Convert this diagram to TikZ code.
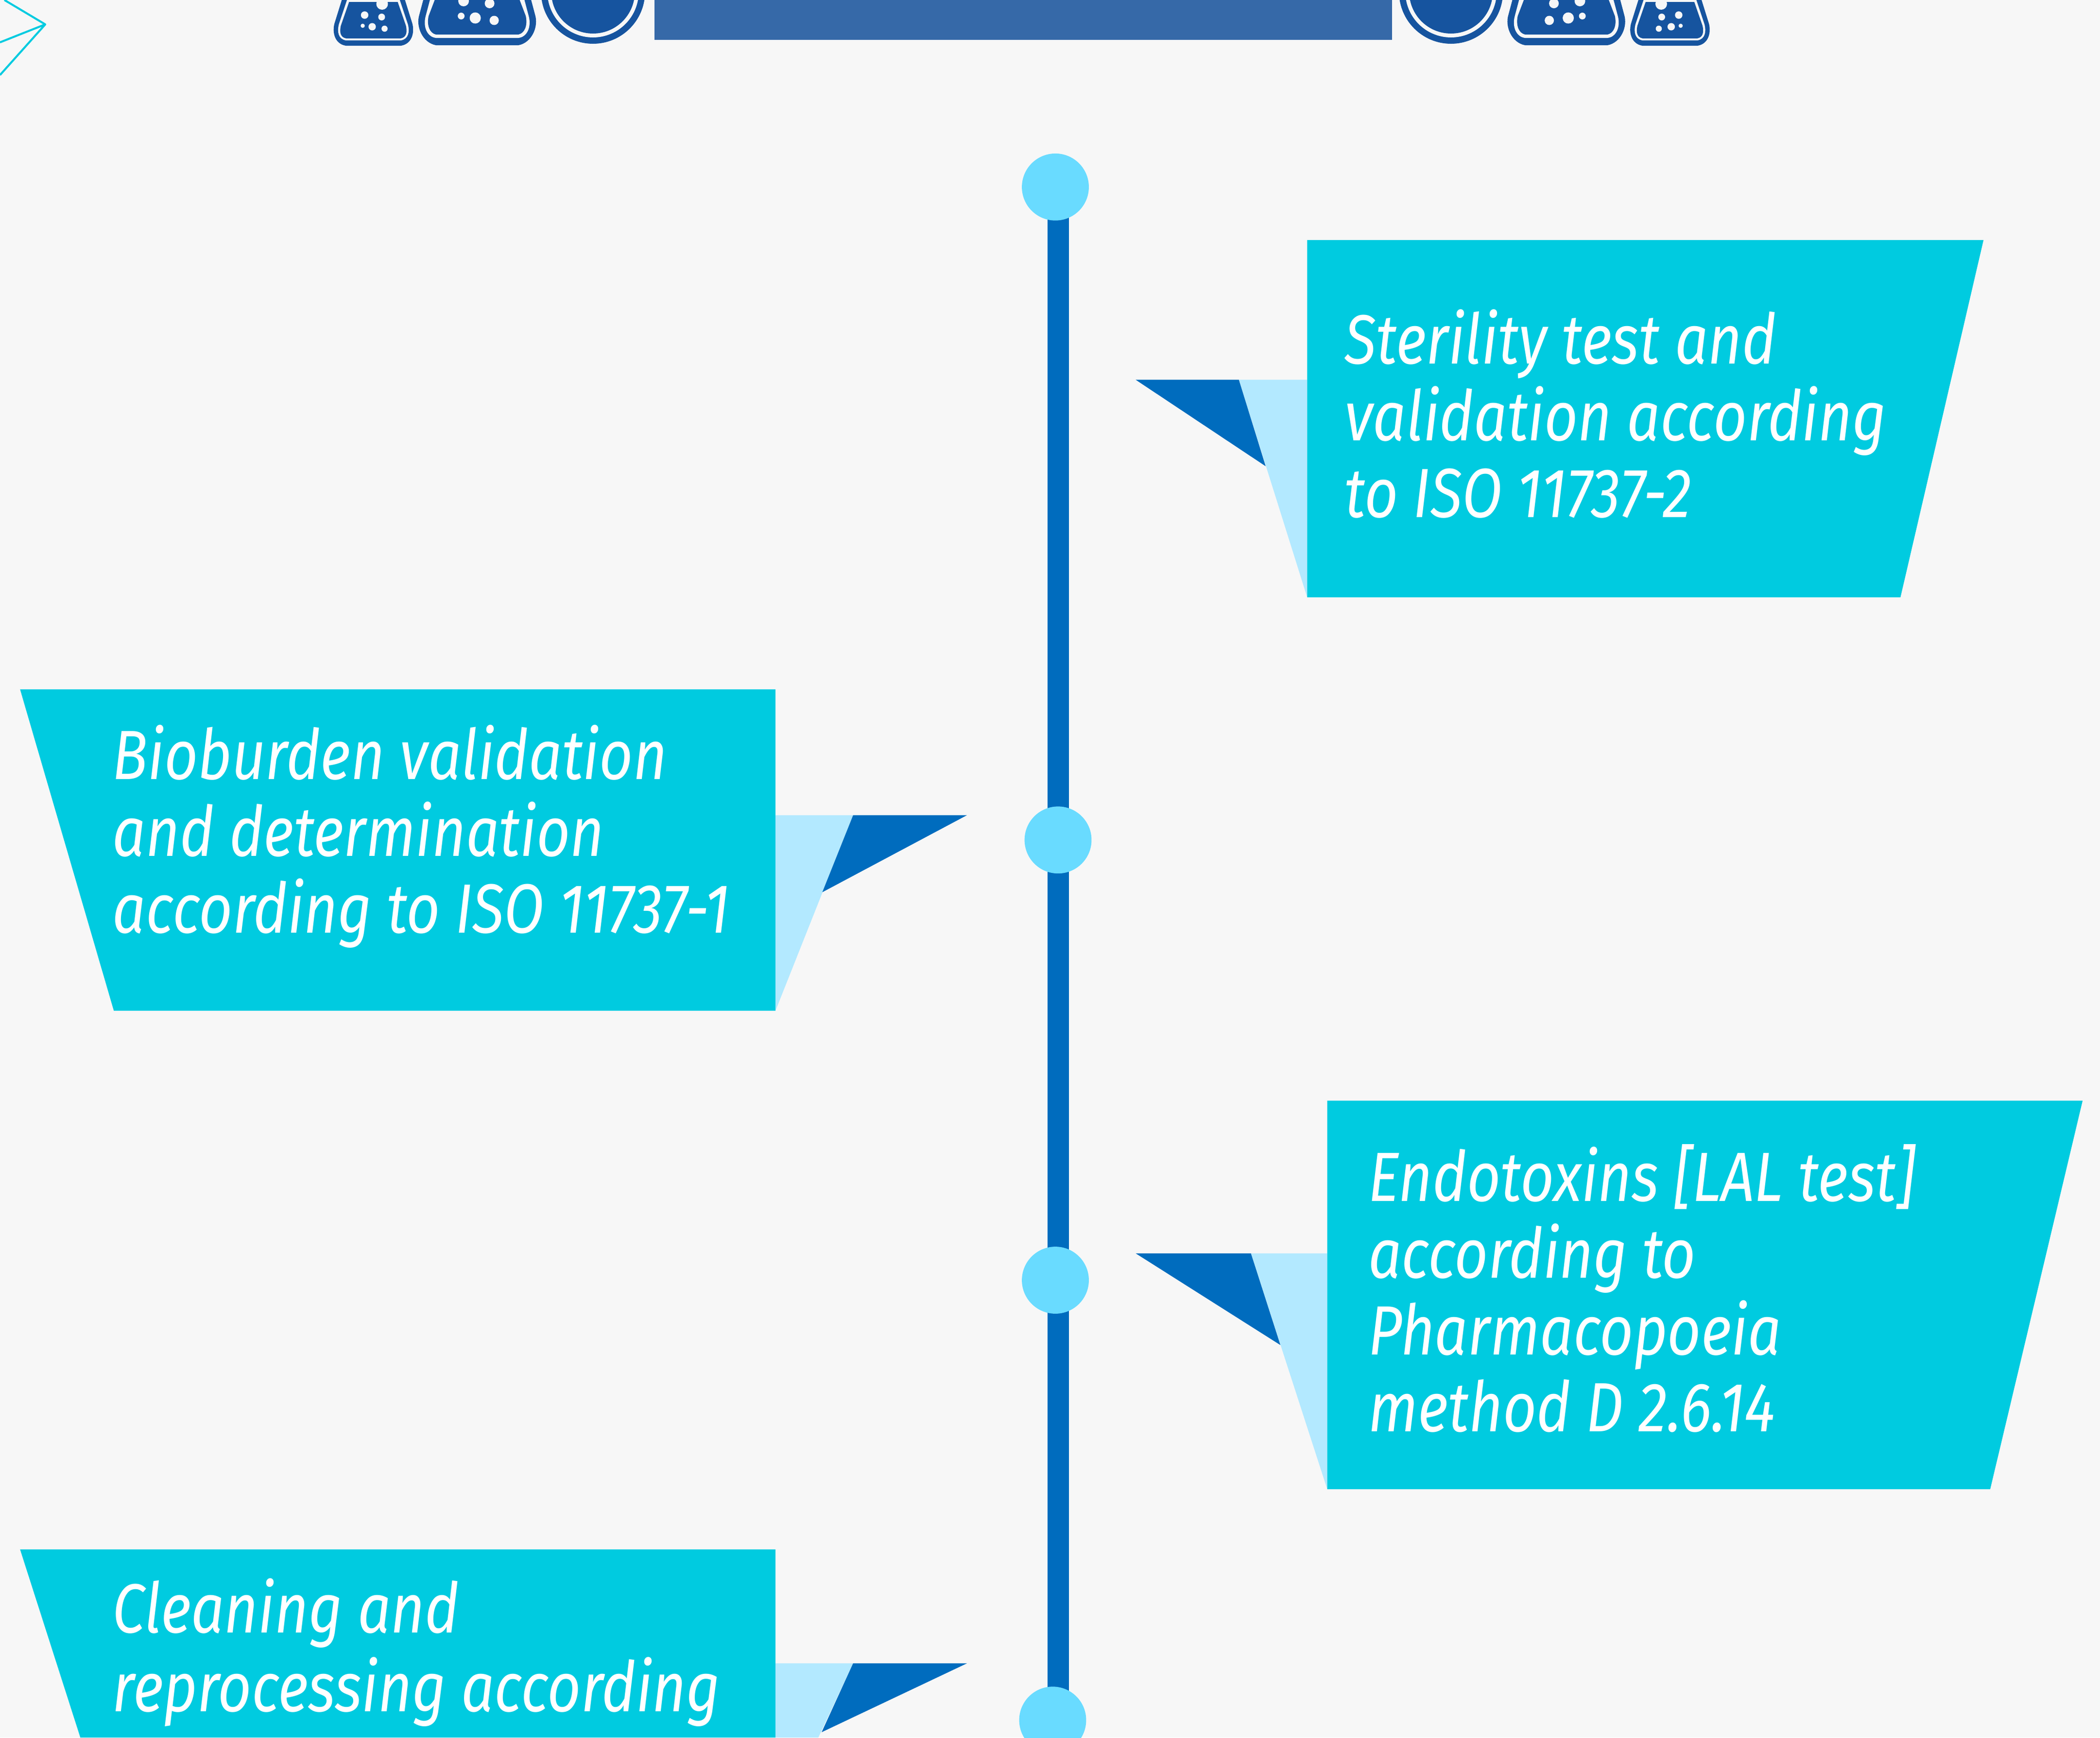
\documentclass[tikz,border=0pt]{standalone}
\usepackage{fontspec}
\setmainfont{Fira Sans}[FakeStretch=0.84]
\definecolor{bgc}{HTML}{F7F7F7}
\definecolor{boxc}{HTML}{00CBE0}
\definecolor{darkc}{HTML}{006CBE}
\definecolor{lightc}{HTML}{B3E9FF}
\definecolor{dotc}{HTML}{69DBFF}
\definecolor{headc}{HTML}{3669A8}
\definecolor{iconc}{HTML}{16549F}
\tikzset{
  boxshape/.style={fill=boxc},
  tailshape/.style={fill=lightc},
  tipshape/.style={fill=darkc},
  dotnode/.style={circle,fill=dotc,minimum size=2.5cm,inner sep=0pt},
  labelnode/.style={anchor=north west,inner sep=0pt,align=left,text=white,
    font=\fontsize{74}{81.5}\selectfont\itshape},
  iconlocal/.style={x=0.01814cm,y=-0.01814cm},
}
\newcommand{\flaskS}{%
  \fill[iconc] (-65,0) -- (-80,48) .. controls (-85,66) and (-80,90) .. (-57,94) -- (57,94) .. controls (80,90) and (85,66) .. (80,48) -- (65,0) -- cycle;
  \fill[bgc] (-54,-1) -- (-71,50) .. controls (-75,66) and (-72,80) .. (-57,83) -- (57,83) .. controls (72,80) and (75,66) .. (71,50) -- (54,-1) -- cycle;
  \fill[iconc] (-50,4) -- (-67,53) .. controls (-70,66) and (-68,77) .. (-56,79) -- (56,79) .. controls (68,77) and (70,66) .. (67,53) -- (50,4) -- cycle;
  \fill[bgc] (-18,8) circle[radius=12] (-17,35) circle[radius=7] (18,31) circle[radius=7.7]
    (22,53) circle[radius=4.3] (2.5,55) circle[radius=7.6] (-23,59) circle[radius=6.3];
}
\newcommand{\flaskB}{%
  \fill[iconc] (-111,0) -- (-119,30) .. controls (-127,55) and (-112,88) .. (-85,93) -- (85,93) .. controls (112,88) and (127,55) .. (119,30) -- (111,0) -- cycle;
  \fill[bgc] (-97,-1) -- (-106,33) .. controls (-112,55) and (-103,76) .. (-85,78) -- (85,78) .. controls (103,76) and (112,55) .. (106,33) -- (97,-1) -- cycle;
  \fill[iconc] (-87,-1) -- (-100,33) .. controls (-104,52) and (-98,68) .. (-85,71) -- (85,71) .. controls (98,68) and (104,52) .. (100,33) -- (87,-1) -- cycle;
  \fill[bgc] (-25.5,7) circle[radius=10] (28,2) circle[radius=11] (33,33) circle[radius=7]
    (4,37) circle[radius=11.5] (-35,42) circle[radius=9.5];
}
\newcommand{\disc}{%
  \fill[iconc] (0,-17) circle[radius=107];
  \fill[bgc] (0,-17) circle[radius=94];
  \fill[iconc] (0,-17) circle[radius=86];
}
\begin{document}
\begin{tikzpicture}[x=0.05cm,y=-0.05cm]
\useasboundingbox (0,0) rectangle (1568,1297);
\fill[bgc] (0,0) rectangle (1568,1297);
\clip (0,0) rectangle (1568,1297);
% paper plane fragment
\draw[boxc,line width=2.1pt,line join=round] (3.3,0) -- (33.8,18.2) -- (0,31.6) (33.8,18.2) -- (0,56);
% header
\fill[headc] (488.7,0) rectangle (1039.5,29.75);
% icons (mirrored pairs)
\begin{scope}[shift={(278.8,0)},iconlocal,xscale=-1]\flaskS\end{scope}
\begin{scope}[shift={(1246.9,0)},iconlocal]\flaskS\end{scope}
\begin{scope}[shift={(356.3,0)},iconlocal,xscale=-1]\flaskB\end{scope}
\begin{scope}[shift={(1169.5,0)},iconlocal]\flaskB\end{scope}
\begin{scope}[shift={(442.8,0)},iconlocal]\disc\end{scope}
\begin{scope}[shift={(1083.4,0)},iconlocal]\disc\end{scope}
% axis
\coordinate (axt) at (790,140);
\coordinate (axb) at (790,1297);
\draw[darkc,line width=16*1.4226pt] (axt) -- (axb);
\node[dotnode] (d1) at (788,139.6) {};
\node[dotnode] (d2) at (790,627) {};
\node[dotnode] (d3) at (788,955.6) {};
\node[dotnode] (d4) at (786,1284) {};
% box 1
\fill[tailshape] (925,283.5) -- (976,283.5) -- (976,445.8) -- cycle;
\fill[tipshape] (848,283.5) -- (925,283.5) -- (945,348) -- cycle;
\fill[boxshape] (976,179.2) -- (1481,179.2) -- (1419,445.8) -- (976,445.8) -- cycle;
\node[labelnode] (t1) at (1004,231) {Sterility test and\\validation according\\to ISO 11737-2};
% box 2
\fill[tailshape] (579,608.5) -- (637,608.5) -- (579,754.5) -- cycle;
\fill[tipshape] (722,608.5) -- (637,608.5) -- (614,666) -- cycle;
\fill[boxshape] (15,514.6) -- (579,514.6) -- (579,754.5) -- (85,754.5) -- cycle;
\node[labelnode] (t2) at (84,541) {Bioburden validation\\and determination\\according to ISO 11737-1};
% box 3
\fill[tailshape] (934,935.6) -- (991,935.6) -- (991,1111.6) -- cycle;
\fill[tipshape] (848,935.6) -- (934,935.6) -- (956,1004) -- cycle;
\fill[boxshape] (991,821.6) -- (1555,821.6) -- (1486,1111.6) -- (991,1111.6) -- cycle;
\node[labelnode] (t3) at (1021.5,854) {Endotoxins [LAL test]\\according to\\Pharmacopoeia\\method D 2.6.14};
% box 4
\fill[tailshape] (579,1241.6) -- (637,1241.6) -- (611,1297) -- (579,1297) -- cycle;
\fill[tipshape] (722,1241.6) -- (637,1241.6) -- (613.5,1293) -- cycle;
\fill[boxshape] (15,1156.6) -- (579,1156.6) -- (579,1297) -- (60,1297) -- cycle;
\node[labelnode,font=\fontsize{74}{83.5}\selectfont\itshape] (t4) at (84,1178) {Cleaning and\\reprocessing according};
\end{tikzpicture}
\end{document}
